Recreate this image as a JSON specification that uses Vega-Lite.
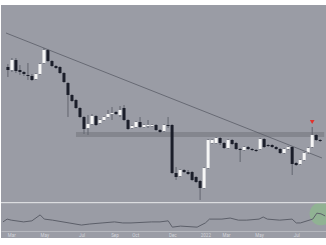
{
  "$schema": "https://vega.github.io/schema/vega-lite/v6.json",
  "background": "white",
  "padding": {"top": 5, "left": 0, "right": 0, "bottom": 8},
  "spacing": 0,
  "config": {"view": {"fill": "#9a9ca5", "stroke": null}, "concat": {"spacing": 0}},
  "datasets": {
    "candles": [
      {"t":0,"o":233,"c":230,"h":236,"l":223},{"t":1,"o":230,"c":240,"h":242,"l":228},{"t":2,"o":240,"c":229,"h":242,"l":227},{"t":3,"o":230,"c":228,"h":235,"l":225},{"t":4,"o":228,"c":226,"h":229,"l":224},{"t":5,"o":225,"c":224,"h":237,"l":220},{"t":6,"o":224,"c":220,"h":226,"l":219},{"t":7,"o":221,"c":226,"h":227,"l":220},{"t":8,"o":226,"c":236,"h":237,"l":225},{"t":9,"o":237,"c":250,"h":252,"l":236},
      {"t":10,"o":250,"c":239,"h":251,"l":238},{"t":11,"o":239,"c":234,"h":240,"l":233},{"t":12,"o":234,"c":232,"h":235,"l":231},{"t":13,"o":233,"c":227,"h":234,"l":226},{"t":14,"o":227,"c":218,"h":228,"l":217},{"t":15,"o":217,"c":205,"h":218,"l":183},{"t":16,"o":205,"c":199,"h":206,"l":198},{"t":17,"o":200,"c":192,"h":201,"l":191},{"t":18,"o":192,"c":183,"h":193,"l":182},{"t":19,"o":183,"c":171,"h":184,"l":166},
      {"t":20,"o":172,"c":176,"h":185,"l":165},{"t":21,"o":176,"c":184,"h":186,"l":175},{"t":22,"o":184,"c":175,"h":185,"l":174},{"t":23,"o":177,"c":180,"h":181,"l":176},{"t":24,"o":180,"c":183,"h":184,"l":179},{"t":25,"o":183,"c":186,"h":190,"l":182},{"t":26,"o":186,"c":187,"h":193,"l":180},{"t":27,"o":188,"c":186,"h":189,"l":185},{"t":28,"o":185,"c":190,"h":194,"l":183},{"t":29,"o":192,"c":180,"h":195,"l":179},
      {"t":30,"o":180,"c":171,"h":181,"l":170},{"t":31,"o":172,"c":174,"h":175,"l":171},{"t":32,"o":173,"c":178,"h":179,"l":172},{"t":33,"o":178,"c":173,"h":183,"l":172},{"t":34,"o":173,"c":175,"h":176,"l":172},{"t":35,"o":174,"c":175,"h":180,"l":172},{"t":36,"o":174,"c":175,"h":176,"l":173},{"t":37,"o":175,"c":170,"h":176,"l":169},{"t":38,"o":170,"c":168,"h":171,"l":167},{"t":39,"o":169,"c":175,"h":176,"l":168},
      {"t":40,"o":175,"c":174,"h":183,"l":172},{"t":41,"o":175,"c":127,"h":176,"l":126},{"t":42,"o":127,"c":123,"h":133,"l":120},{"t":43,"o":124,"c":130,"h":131,"l":123},{"t":44,"o":130,"c":128,"h":131,"l":127},{"t":45,"o":128,"c":126,"h":130,"l":125},{"t":46,"o":128,"c":120,"h":129,"l":119},{"t":47,"o":123,"c":118,"h":124,"l":117},{"t":48,"o":119,"c":112,"h":120,"l":100},{"t":49,"o":112,"c":132,"h":133,"l":111},
      {"t":50,"o":132,"c":160,"h":161,"l":131},{"t":51,"o":157,"c":160,"h":161,"l":156},{"t":52,"o":157,"c":162,"h":163,"l":156},{"t":53,"o":162,"c":157,"h":163,"l":155},{"t":54,"o":157,"c":152,"h":158,"l":151},{"t":55,"o":152,"c":160,"h":161,"l":151},{"t":56,"o":160,"c":156,"h":161,"l":155},{"t":57,"o":157,"c":151,"h":158,"l":150},{"t":58,"o":151,"c":150,"h":152,"l":138},{"t":59,"o":150,"c":153,"h":154,"l":149},
      {"t":60,"o":153,"c":151,"h":154,"l":150},{"t":61,"o":151,"c":150,"h":152,"l":149},{"t":62,"o":150,"c":149,"h":151,"l":148},{"t":63,"o":151,"c":161,"h":162,"l":150},{"t":64,"o":161,"c":153,"h":162,"l":152},{"t":65,"o":155,"c":154,"h":156,"l":153},{"t":66,"o":155,"c":153,"h":156,"l":152},{"t":67,"o":153,"c":151,"h":154,"l":150},{"t":68,"o":151,"c":147,"h":152,"l":146},{"t":69,"o":147,"c":151,"h":152,"l":146},
      {"t":70,"o":151,"c":153,"h":154,"l":150},{"t":71,"o":153,"c":136,"h":154,"l":125},{"t":72,"o":137,"c":135,"h":138,"l":134},{"t":73,"o":136,"c":140,"h":141,"l":135},{"t":74,"o":140,"c":147,"h":148,"l":139},{"t":75,"o":147,"c":152,"h":153,"l":146},{"t":76,"o":153,"c":165,"h":173,"l":152},{"t":77,"o":165,"c":160,"h":166,"l":159},{"t":78,"o":160,"c":159,"h":161,"l":158}
    ],
    "rsi": [
      {"t":0,"v":46},{"t":1,"v":54},{"t":2,"v":51},{"t":5,"v":46},{"t":7,"v":49},{"t":9,"v":66},{"t":10,"v":54},{"t":12,"v":51},{"t":16,"v":43},{"t":19,"v":37},{"t":21,"v":40},{"t":24,"v":43},{"t":27,"v":46},{"t":29,"v":43},{"t":31,"v":43},{"t":36,"v":46},{"t":38,"v":46},{"t":40,"v":49},{"t":41,"v":31},{"t":43,"v":34},{"t":47,"v":31},{"t":49,"v":43},{"t":50,"v":54},{"t":53,"v":54},{"t":55,"v":57},{"t":57,"v":51},{"t":59,"v":51},{"t":62,"v":54},{"t":63,"v":60},{"t":64,"v":54},{"t":67,"v":51},{"t":70,"v":54},{"t":71,"v":43},{"t":72,"v":43},{"t":75,"v":54},{"t":76,"v":71},{"t":77,"v":69},{"t":78,"v":63}
    ]
  },
  "vconcat": [
    {
      "width": 326,
      "height": 197,
      "encoding": {
        "x": {"field": "t", "type": "quantitative", "scale": {"domain": [-0.48, 78.45], "nice": false, "zero": false}, "axis": null}
      },
      "layer": [
        {
          "data": {"values": [{"t": 17, "t2": 79, "lo": 163, "hi": 168}]},
          "mark": {"type": "rect", "color": "#84868e", "clip": true},
          "encoding": {
            "x2": {"field": "t2"},
            "y": {"field": "lo", "type": "quantitative", "scale": {"domain": [98, 295], "nice": false, "zero": false}, "axis": null},
            "y2": {"field": "hi"}
          }
        },
        {
          "data": {"name": "candles"},
          "mark": {"type": "rule", "color": "#62656f", "strokeWidth": 1, "clip": true},
          "encoding": {
            "y": {"field": "l", "type": "quantitative"},
            "y2": {"field": "h"}
          }
        },
        {
          "data": {"name": "candles"},
          "mark": {"type": "bar", "size": 3, "clip": true},
          "encoding": {
            "y": {"field": "o", "type": "quantitative"},
            "y2": {"field": "c"},
            "color": {"condition": {"test": "datum.c >= datum.o", "value": "#f6f6f6"}, "value": "#1b1e2a"}
          }
        },
        {
          "data": {"values": [{"t": -0.48, "p": 267}, {"t": 78.45, "p": 142}]},
          "mark": {"type": "line", "color": "#5a5d67", "strokeWidth": 0.8, "clip": true},
          "encoding": {"y": {"field": "p", "type": "quantitative"}}
        },
        {
          "data": {"values": [{"t": 76, "p": 178}]},
          "mark": {"type": "point", "shape": "triangle-down", "filled": true, "color": "#e3312b", "size": 22, "opacity": 1},
          "encoding": {"y": {"field": "p", "type": "quantitative"}}
        }
      ]
    },
    {
      "width": 326,
      "height": 35,
      "encoding": {
        "x": {"field": "t", "type": "quantitative", "scale": {"domain": [-0.48, 78.45], "nice": false, "zero": false},
          "axis": {"offset": -7, "values": [2, 10, 19, 27, 32, 41, 49, 54, 62, 71], "labelExpr": "{'2':'Mar','10':'May','19':'Jul','27':'Sep','32':'Oct','41':'Dec','49':'2022','54':'Mar','62':'May','71':'Jul'}[datum.value]", "title": null, "grid": false, "ticks": false, "labelPadding": 1, "labelFontSize": 4.5, "labelColor": "#d4d6dc", "labelFont": "Roboto", "domainColor": "#b6b8be", "domainWidth": 1, "labelFlush": false, "labelOverlap": false}}
      },
      "layer": [
        {
          "data": {"values": [{"t": 77, "v": 69}]},
          "mark": {"type": "point", "shape": "circle", "filled": true, "color": "#86cf7e", "size": 520, "opacity": 0.45, "clip": true},
          "encoding": {"y": {"field": "v", "type": "quantitative", "scale": {"domain": [0, 100], "nice": false}, "axis": null}}
        },
        {
          "data": {"values": [{"v": 100}]},
          "mark": {"type": "rule", "color": "#b6b8be", "strokeWidth": 1},
          "encoding": {"y": {"field": "v", "type": "quantitative"}, "x": {"value": 0}, "x2": {"value": 326}}
        },
        {
          "data": {"name": "rsi"},
          "mark": {"type": "line", "color": "#5c5f69", "strokeWidth": 1, "clip": true},
          "encoding": {"y": {"field": "v", "type": "quantitative"}}
        }
      ]
    }
  ]
}
